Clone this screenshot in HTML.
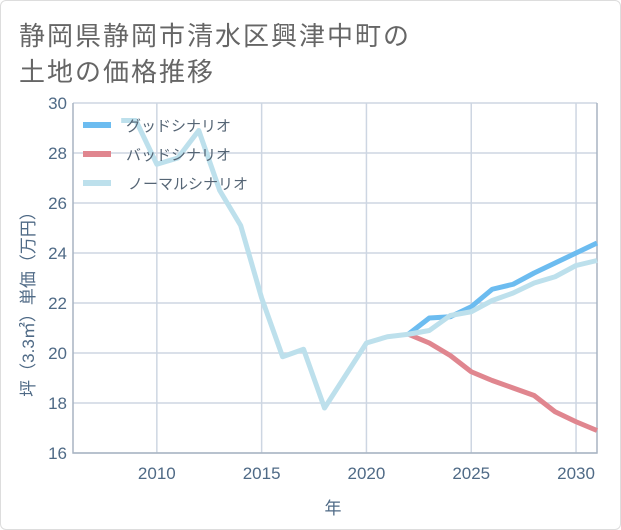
<!DOCTYPE html>
<html><head><meta charset="utf-8"><style>
body{margin:0;background:#fff;}
#card{position:absolute;left:0;top:0;width:619px;height:528px;border:1px solid #ddd;border-radius:6px;background:#fff;}
.title{position:absolute;left:18px;font:26px "Liberation Sans","Noto Sans CJK JP",sans-serif;color:#666;white-space:nowrap;letter-spacing:2px;}
svg text{font-family:"Liberation Sans","Noto Sans CJK JP",sans-serif;}
</style></head><body>
<div id="card">
<div class="title" style="top:15px">静岡県静岡市清水区興津中町の</div>
<div class="title" style="top:51px">土地の価格推移</div>
</div>
<svg id="chart" width="621" height="530" style="position:absolute;left:0;top:0"></svg>
<script>
const normalYears=[2008.3,2009,2010,2011,2012,2013,2014,2015,2016,2017,2018,2019,2020,2021,2022,2023,2024,2025,2026,2027,2028,2029,2030,2031];
const normalValues=[29.3,29.3,27.55,27.8,28.9,26.5,25.1,22.2,19.85,20.15,17.8,19.1,20.4,20.65,20.75,20.9,21.5,21.65,22.1,22.4,22.8,23.05,23.5,23.7];
const scenarioYears=[2022,2023,2024,2025,2026,2027,2028,2029,2030,2031];
const goodValues=[20.75,21.4,21.45,21.85,22.55,22.75,23.2,23.6,24.0,24.4];
const badValues=[20.75,20.4,19.9,19.25,18.9,18.6,18.3,17.65,17.25,16.9];
const yTicks=[16,18,20,22,24,26,28,30];
const xTicks=[2010,2015,2020,2025,2030];
const legendLabels=["グッドシナリオ","バッドシナリオ","ノーマルシナリオ"];
const NS="http://www.w3.org/2000/svg";
const svg=document.getElementById('chart');
const L=73,R=597,T=103,B=453,x0=2006,x1=2031,y0=16,y1=30;
const X=v=>L+(v-x0)/(x1-x0)*(R-L);
const Y=v=>B-(v-y0)/(y1-y0)*(B-T);
function mk(t,a){const e=document.createElementNS(NS,t);for(const k in a)e.setAttribute(k,a[k]);svg.appendChild(e);return e;}
yTicks.forEach(v=>{
 const g=mk('line',{x1:L,x2:R,y1:Y(v),y2:Y(v),stroke:'#cdd6e2','stroke-width':1.5});
 
 
 const t=mk('text',{x:L-6,y:Y(v)+6,'text-anchor':'end','font-size':17,fill:'#4f6a86'});
 t.textContent=v;
 
 
});
xTicks.forEach(v=>{
 const g=mk('line',{x1:X(v),x2:X(v),y1:T,y2:B,stroke:'#cdd6e2','stroke-width':1.5});
 
 
 const t=mk('text',{x:X(v),y:B+26,'text-anchor':'middle','font-size':17,fill:'#4f6a86'});
 t.textContent=v;
 
 
});
const ax=mk('path',{d:`M${L},${T}V${B}H${R}V${T}`,fill:'none',stroke:'#a8b4c2','stroke-width':1.5});


function line(xs,ys,color,name){
 const p=mk('polyline',{points:xs.map((x,i)=>X(x)+','+Y(ys[i])).join(' '),fill:'none',stroke:color,'stroke-width':5,'stroke-linejoin':'round'});
 
 
}
line(scenarioYears,badValues,'#e0868f','bad-scenario-line');
line(scenarioYears,goodValues,'#6cbcf0','good-scenario-line');
line(normalYears,normalValues,'#bde0ec','normal-scenario-line');
const lc=['#6cbcf0','#e0868f','#bde0ec'];
legendLabels.forEach((s,i)=>{
 const y=125+i*29;
 const l=mk('line',{x1:83,x2:111,y1:y,y2:y,stroke:lc[i],'stroke-width':6});
 
 
 const t=mk('text',{x:i==2?128:126,y:y+6,'font-size':15,fill:'#556575'});
 t.textContent=s;
 
 
});
const yt=mk('text',{x:0,y:0,'font-size':17,fill:'#4f6a86','text-anchor':'middle',transform:'translate(34,300) rotate(-90)'});
yt.textContent='坪（3.3㎡）単価（万円）';


const xt=mk('text',{x:333,y:514,'font-size':17,fill:'#4f6a86','text-anchor':'middle'});
xt.textContent='年';


</script>
</body></html>
